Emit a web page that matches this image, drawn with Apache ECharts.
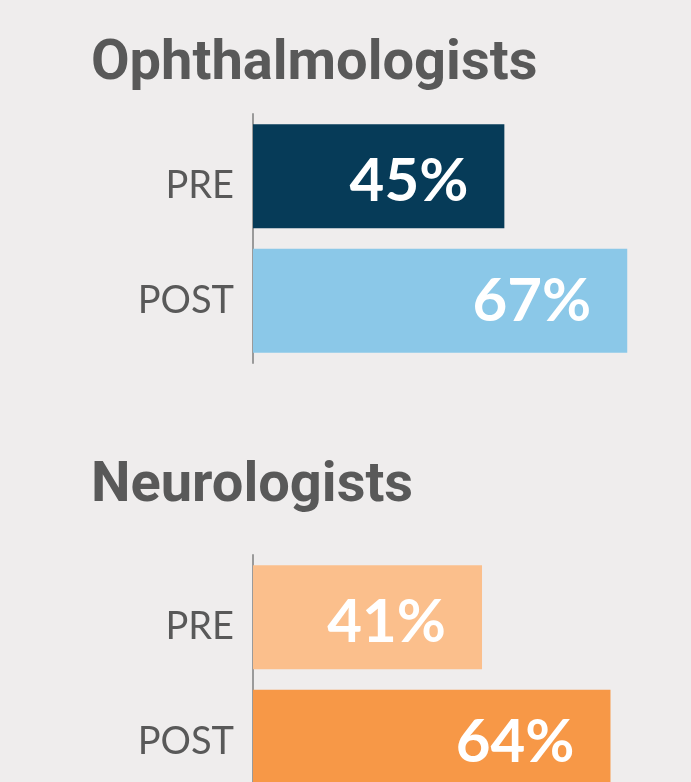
<!DOCTYPE html>
<html>
<head>
<meta charset="utf-8">
<script src="https://cdn.jsdelivr.net/npm/echarts@6/dist/echarts.min.js"></script>
<style>
html,body{margin:0;padding:0;background:#efeded;overflow:hidden;}
#chart{width:691px;height:830px;}
</style>
</head>
<body>
<div id="chart"></div>
<script>
const groupTitles = ['Ophthalmologists', 'Neurologists'];
const categories = ['PRE', 'POST'];
const ophthalmologistValues = [45, 67];
const neurologistValues = [41, 64];

const barColors = [
  ['#063b58', '#8bc8e8'],
  ['#fbbf8c', '#f79847']
];
const labelShift = [18, 0];
const valueShift = [5, 1];
const textGray = '#595959';
const fontFam = 'Lato, "Open Sans", sans-serif';
const titleFam = 'Roboto, "Open Sans", sans-serif';

const chart = echarts.init(document.getElementById('chart'));
const grids = [
  { left: 253, width: 391, top: 114, height: 249 },
  { left: 253, width: 391, top: 555, height: 249 }
];
const titleTops = [32, 454];
const groups = [ophthalmologistValues, neurologistValues];

const richStyles = {};
categories.forEach((c, j) => {
  richStyles['c' + j] = { fontFamily: fontFam, fontSize: 38, color: textGray, padding: [labelShift[j], 0, 0, 0] };
});

const option = {
  backgroundColor: '#efeded',
  animation: false,
  title: groupTitles.map((t, i) => ({
    text: t,
    left: 86,
    top: titleTops[i],
    textStyle: { fontFamily: titleFam, fontWeight: 'bold', fontSize: 56, color: textGray }
  })),
  grid: grids,
  xAxis: grids.map((g, i) => ({
    type: 'value', gridIndex: i, min: 0, max: 70, show: false
  })),
  yAxis: grids.map((g, i) => ({
    type: 'category', gridIndex: i, data: categories, inverse: true,
    axisLine: { show: true, lineStyle: { color: '#9a9a9a', width: 2 } },
    axisTick: { show: false },
    splitLine: { show: false },
    axisLabel: {
      margin: 19,
      formatter: (v, idx) => '{c' + idx + '|' + v + '}',
      rich: richStyles
    }
  })),
  series: groups.map((vals, i) => ({
    type: 'bar',
    xAxisIndex: i, yAxisIndex: i,
    barWidth: 104,
    data: vals.map((v, j) => ({
      value: v,
      itemStyle: { color: barColors[i][j] },
      label: { offset: [0, valueShift[j]] }
    })),
    label: {
      show: true, position: 'insideRight', distance: 36,
      formatter: '{c}%',
      fontFamily: fontFam, fontWeight: 'bold', fontSize: 60, color: '#ffffff'
    }
  }))
};
chart.setOption(option);
</script>
</body>
</html>
